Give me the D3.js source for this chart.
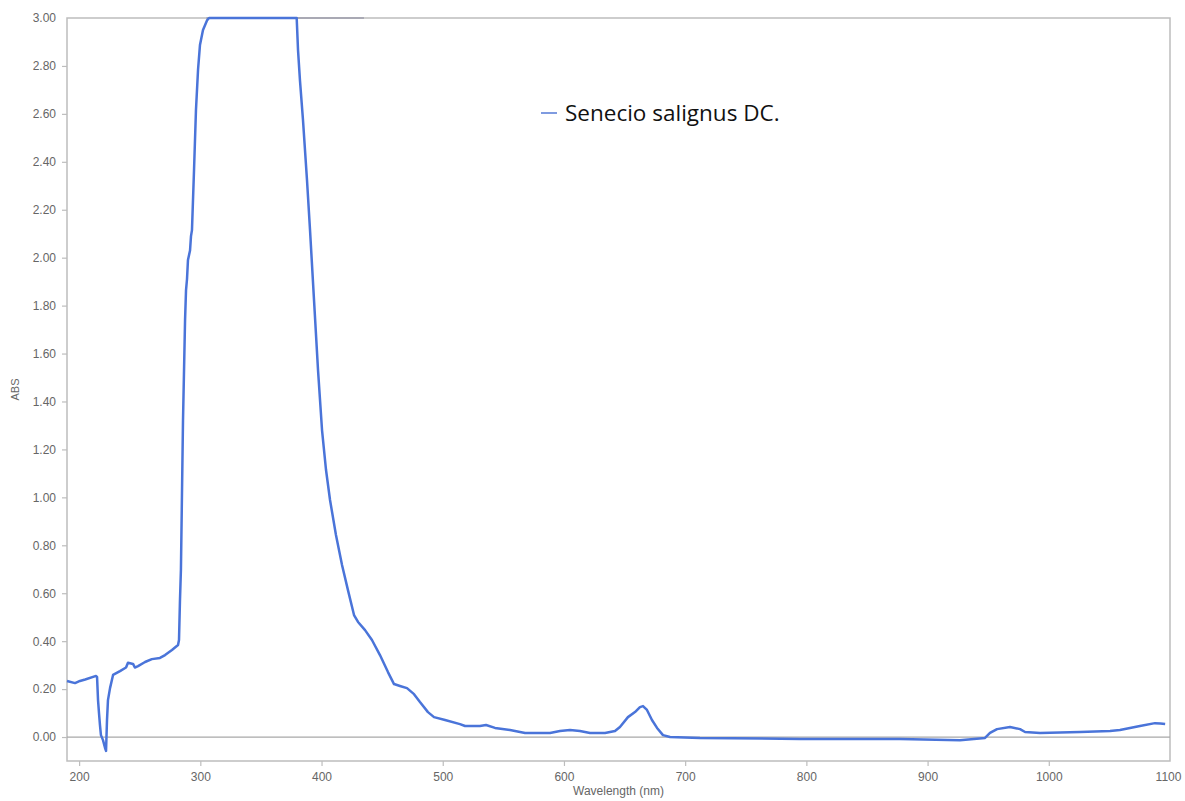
<!DOCTYPE html>
<html><head><meta charset="utf-8">
<script src="https://cdn.jsdelivr.net/npm/d3@7"></script>
<style>body{margin:0;background:#fff}svg{display:block}</style>
</head><body>
<script>
const seriesName = "Senecio salignus DC.";
const wavelength = [190,196.6,200.7,205,214,214.8,215.6,216.4,217.2,218,219.7,221.4,222.2,223,223.8,225.5,228,233.7,238.7,240.3,244.5,246,248.6,254.4,260,266.7,270.9,276.6,281.6,282.4,283.2,284,285.7,287.4,288.2,289,289.8,291.5,292.3,293.1,294.8,296.4,298.1,299.7,302.2,305.5,307.2,379.5,380.6,382.2,384.7,388,390.5,393.8,397.1,400.4,403.7,407,411.9,416.9,421.8,426.8,430.1,435.9,441.6,448.2,454.8,459.8,464.7,470.5,476.3,481.2,487.8,492.8,501.9,514.2,518.4,530.7,535.7,543.1,555.5,567.9,588.5,596.7,605,613.2,621.5,633.9,642.1,646.2,652.8,658.6,662.7,665.2,668.5,672.6,676.8,681.7,687.5,712.2,794.7,877.2,926.7,947.4,951.5,957.3,968,976.3,980.4,992.8,1025.8,1050.5,1058.7,1075.2,1087.6,1092,1096];
const absorbance = [0.234,0.225,0.234,0.24,0.255,0.25,0.154,0.10,0.05,0.008,-0.013,-0.046,-0.058,0.07,0.154,0.204,0.259,0.275,0.29,0.31,0.305,0.29,0.296,0.313,0.325,0.33,0.342,0.363,0.384,0.405,0.57,0.70,1.32,1.74,1.865,1.91,1.99,2.03,2.09,2.115,2.366,2.616,2.783,2.887,2.95,2.99,3.0,3.0,2.866,2.74,2.574,2.324,2.115,1.823,1.531,1.281,1.114,0.989,0.843,0.718,0.613,0.509,0.48,0.446,0.405,0.342,0.271,0.221,0.213,0.204,0.179,0.146,0.104,0.083,0.071,0.054,0.046,0.046,0.05,0.038,0.029,0.017,0.017,0.025,0.029,0.025,0.017,0.017,0.025,0.042,0.083,0.104,0.125,0.129,0.113,0.071,0.038,0.008,0,-0.004,-0.008,-0.008,-0.013,-0.004,0.017,0.033,0.042,0.033,0.021,0.017,0.021,0.025,0.029,0.046,0.058,0.056,0.054];
const ghostWavelength = [305,435];
const ghostAbsorbance = [3.0,3.0];
const xTicks = [200,300,400,500,600,700,800,900,1000,1100];
const yTicks = [0,0.2,0.4,0.6,0.8,1.0,1.2,1.4,1.6,1.8,2.0,2.2,2.4,2.6,2.8,3.0];

const W = 1185, H = 801;
const L = 67, R = 1170, T = 18, B = 761;
const svg = d3.select("body").append("svg").attr("width", W).attr("height", H);
const x = d3.scaleLinear().domain([190, 1100]).range([L, R]);
const y = d3.scaleLinear().domain([-0.1, 3.0]).range([B, T]);
const axisColor = "#bdbdbd", textColor = "#666";

svg.append("rect").attr("x", L).attr("y", T).attr("width", R - L).attr("height", B - T)
  .attr("fill", "none").attr("stroke", axisColor).attr("stroke-width", 1.5);
svg.append("line").attr("x1", L).attr("x2", R).attr("y1", y(0)).attr("y2", y(0))
  .attr("stroke", "#a8a8a8").attr("stroke-width", 1.3);

const yAxis = svg.append("g").attr("transform", `translate(${L},0)`)
  .call(d3.axisLeft(y).tickValues(yTicks).tickFormat(d3.format(".2f")).tickSize(5).tickPadding(6));
const xAxis = svg.append("g").attr("transform", `translate(0,${B})`)
  .call(d3.axisBottom(x).tickValues(xTicks).tickFormat(d3.format("d")).tickSize(5).tickPadding(6));
[yAxis, xAxis].forEach(g => {
  g.select(".domain").remove();
  g.selectAll(".tick line").attr("stroke", axisColor).attr("stroke-width", 1.2);
  g.selectAll(".tick text").attr("fill", textColor).style("font-family", "Liberation Sans, Arial, sans-serif").style("font-size", "12px");
});
yAxis.selectAll(".tick").filter(d => d === 3.0).select("line").remove();
xAxis.selectAll(".tick").filter(d => d === 1100).select("line").remove();
xAxis.selectAll(".tick").filter(d => d === 1100).select("text").attr("dx", -2);

svg.append("text").attr("transform", `translate(19,${(T + B) / 2}) rotate(-90)`)
  .attr("text-anchor", "middle").attr("fill", textColor)
  .style("font-family", "Liberation Sans, Arial, sans-serif").style("font-size", "11px").text("ABS");
svg.append("text").attr("x", (L + R) / 2).attr("y", 795).attr("text-anchor", "middle").attr("fill", textColor)
  .style("font-family", "Liberation Sans, Arial, sans-serif").style("font-size", "12px").text("Wavelength (nm)");

const line = d3.line().x(d => x(d[0])).y(d => y(d[1]));
svg.append("path").datum(d3.zip(ghostWavelength, ghostAbsorbance)).attr("d", line)
  .attr("fill", "none").attr("stroke", "#a9a9b4").attr("stroke-width", 2);
svg.append("path").datum(d3.zip(wavelength, absorbance)).attr("d", line)
  .attr("fill", "none").attr("stroke", "#4a74d9").attr("stroke-width", 2.5).attr("stroke-linejoin", "round");

svg.append("line").attr("x1", 541).attr("x2", 557).attr("y1", 113).attr("y2", 113)
  .attr("stroke", "#7f9be0").attr("stroke-width", 2);
svg.append("text").attr("x", 565).attr("y", 121).attr("fill", "#111")
  .style("font-family", "Open Sans, Lato, sans-serif").style("font-size", "22.5px").text(seriesName);
</script>
</body></html>
